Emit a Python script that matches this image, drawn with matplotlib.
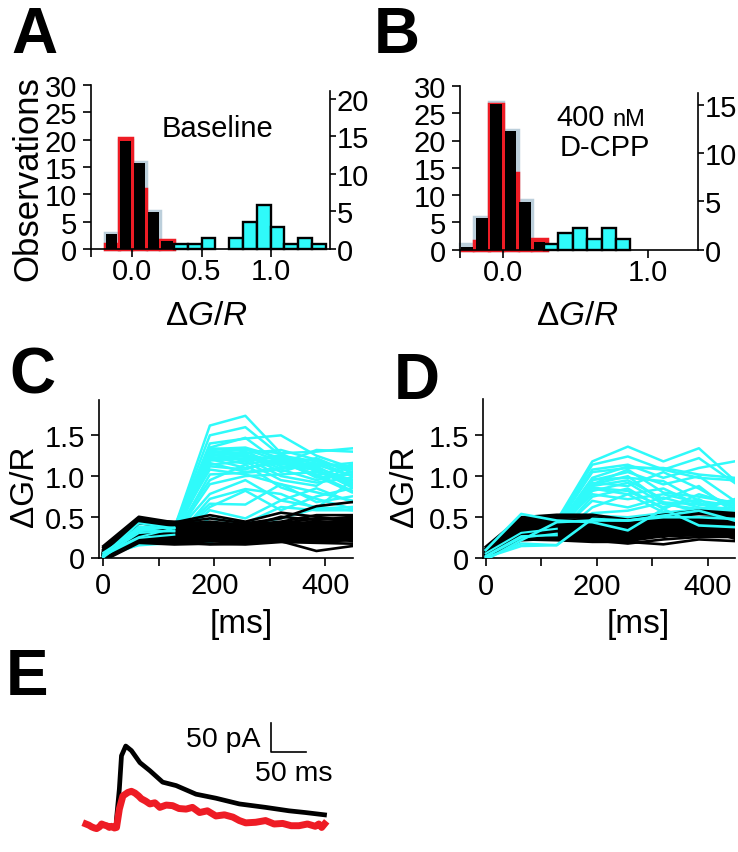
import matplotlib
matplotlib.use('Agg')
import matplotlib.pyplot as plt

plt.rcParams['font.family'] = ['Liberation Sans', 'DejaVu Sans']
plt.rcParams['mathtext.fontset'] = 'custom'
plt.rcParams['mathtext.rm'] = 'Liberation Sans'
plt.rcParams['mathtext.it'] = 'Liberation Sans:italic'

W, H = 738, 853
CYAN = '#2ffafa'
RED = '#ee1c25'
PALE = '#bccfdb'

# histogram A, left edges of 0.1 wide bins
edges_a = [-0.2, -0.1, 0.0, 0.1, 0.2]
pale_a = [3, 20, 16, 7, 1.5]
red_a = [1, 20.3, 11, 0, 1.6]
black_a = [2.7, 19.7, 15.7, 6.8, 1.4]
cyan_edges_a = [0.3, 0.4, 0.5, 0.7, 0.8, 0.9, 1.0, 1.1, 1.2, 1.3]
cyan_a = [1, 1, 2, 2, 5, 8, 4, 1, 2, 1]

# histogram B
edges_b = [-0.3, -0.2, -0.1, 0.0, 0.1, 0.2]
pale_b = [1, 6, 27, 22, 9, 1.5]
red_b = [0, 1.6, 26.7, 14, 0, 1.9]
black_b = [0.4, 5.8, 26.7, 21.7, 8.8, 1.4]
cyan_edges_b = [0.28, 0.38, 0.48, 0.58, 0.68, 0.78]
cyan_b = [1, 3, 4, 2, 4, 2]

times = [0, 64, 128, 192, 256, 320, 384, 448]

cyan_c = [
    [0.03, 0.42, 0.36, 1.62, 1.74, 1.28, 1.05, 0.95],
    [0.05, 0.38, 0.35, 1.50, 1.60, 1.25, 1.18, 1.00],
    [0.02, 0.30, 0.33, 1.40, 1.46, 1.50, 1.25, 1.10],
    [0.00, 0.36, 0.38, 1.35, 1.47, 1.15, 1.32, 1.30],
    [0.04, 0.25, 0.36, 1.34, 1.32, 1.28, 1.30, 1.34],
    [0.01, 0.35, 0.30, 1.33, 1.35, 1.22, 1.12, 1.16],
    [0.06, 0.34, 0.37, 1.31, 1.28, 1.32, 1.20, 1.05],
    [0.03, 0.28, 0.35, 1.29, 1.33, 1.18, 1.10, 0.95],
    [0.00, 0.33, 0.32, 1.27, 1.20, 1.24, 1.15, 1.12],
    [0.05, 0.36, 0.34, 1.25, 1.30, 1.12, 1.08, 0.88],
    [0.02, 0.24, 0.28, 1.24, 1.15, 1.20, 0.98, 1.02],
    [0.04, 0.31, 0.30, 1.22, 1.26, 1.05, 1.18, 1.08],
    [0.01, 0.37, 0.36, 1.21, 1.10, 1.16, 1.02, 0.82],
    [0.03, 0.29, 0.31, 1.19, 1.22, 1.00, 0.92, 0.98],
    [0.02, 0.33, 0.34, 1.30, 1.24, 1.14, 1.22, 1.04],
    [0.04, 0.30, 0.29, 1.28, 1.18, 1.26, 1.06, 0.92],
    [0.01, 0.35, 0.33, 1.26, 1.27, 1.09, 1.14, 1.00],
    [0.03, 0.27, 0.31, 1.23, 1.21, 1.17, 1.00, 1.14],
    [0.05, 0.32, 0.35, 1.20, 1.25, 1.20, 1.08, 0.86],
    [0.00, 0.22, 0.27, 1.16, 1.05, 1.10, 1.12, 0.90],
    [0.05, 0.34, 0.33, 1.14, 1.18, 0.95, 0.88, 1.15],
    [0.02, 0.26, 0.29, 1.12, 1.08, 1.22, 1.00, 0.80],
    [0.04, 0.32, 0.34, 1.08, 1.02, 0.90, 0.80, 0.70],
    [0.01, 0.20, 0.25, 1.02, 1.04, 1.08, 0.95, 1.05],
    [0.03, 0.27, 0.30, 0.95, 1.14, 0.86, 0.72, 0.60],
    [0.00, 0.23, 0.26, 0.90, 1.00, 1.02, 1.05, 0.92],
    [0.02, 0.30, 0.28, 0.78, 0.95, 0.70, 0.62, 0.58],
    [0.04, 0.18, 0.22, 0.72, 0.84, 0.78, 0.60, 0.62],
    [0.01, 0.25, 0.26, 0.66, 0.65, 0.90, 0.68, 0.75],
    [0.03, 0.21, 0.24, 0.62, 0.82, 0.58, 0.75, 0.85],
    [0.00, 0.16, 0.20, 0.58, 0.48, 0.70, 0.85, 0.68],
    [0.02, 0.19, 0.22, 0.48, 0.42, 0.62, 0.58, 0.58],
    [0.03, 0.15, 0.18, 0.18, 0.40, 0.48, 0.60, 0.95],
]

black_c = [
    [0.14, 0.50, 0.43, 0.52, 0.44, 0.55, 0.50, 0.45],
    [0.12, 0.47, 0.42, 0.48, 0.42, 0.48, 0.63, 0.68],
    [0.10, 0.49, 0.41, 0.44, 0.40, 0.44, 0.52, 0.52],
    [0.08, 0.45, 0.44, 0.42, 0.38, 0.50, 0.46, 0.50],
    [0.06, 0.43, 0.41, 0.41, 0.39, 0.42, 0.48, 0.46],
    [0.09, 0.46, 0.42, 0.40, 0.37, 0.41, 0.44, 0.44],
    [0.05, 0.44, 0.40, 0.39, 0.36, 0.39, 0.42, 0.42],
    [0.07, 0.42, 0.38, 0.38, 0.35, 0.38, 0.40, 0.40],
    [0.03, 0.29, 0.36, 0.37, 0.34, 0.37, 0.38, 0.38],
    [0.04, 0.28, 0.34, 0.36, 0.33, 0.36, 0.37, 0.37],
    [0.02, 0.27, 0.32, 0.35, 0.32, 0.35, 0.36, 0.36],
    [0.06, 0.27, 0.30, 0.34, 0.31, 0.34, 0.34, 0.35],
    [0.01, 0.26, 0.29, 0.33, 0.30, 0.33, 0.33, 0.34],
    [0.03, 0.25, 0.28, 0.32, 0.29, 0.32, 0.32, 0.33],
    [0.00, 0.25, 0.27, 0.31, 0.28, 0.31, 0.31, 0.32],
    [0.02, 0.24, 0.26, 0.30, 0.27, 0.30, 0.30, 0.31],
    [0.00, 0.24, 0.25, 0.29, 0.26, 0.29, 0.29, 0.30],
    [-0.03, 0.23, 0.24, 0.28, 0.25, 0.28, 0.28, 0.29],
    [0.04, 0.23, 0.23, 0.27, 0.24, 0.27, 0.27, 0.28],
    [0.05, 0.22, 0.22, 0.26, 0.23, 0.26, 0.26, 0.27],
    [0.03, 0.21, 0.21, 0.25, 0.22, 0.25, 0.25, 0.26],
    [0.02, 0.20, 0.20, 0.24, 0.21, 0.24, 0.24, 0.25],
    [0.06, 0.19, 0.19, 0.22, 0.20, 0.22, 0.22, 0.23],
    [0.04, 0.19, 0.17, 0.20, 0.18, 0.20, 0.20, 0.21],
    [-0.04, 0.18, 0.16, 0.17, 0.16, 0.19, 0.18, 0.17],
    [0.05, 0.20, 0.19, 0.16, 0.17, 0.20, 0.08, 0.14],
    [0.03, 0.26, 0.22, 0.41, 0.27, 0.43, 0.30, 0.20],
    [0.02, 0.22, 0.27, 0.30, 0.34, 0.25, 0.41, 0.48],
]

cyan_d = [
    [0.08, 0.40, 0.46, 1.18, 1.36, 1.18, 1.34, 0.95],
    [0.05, 0.42, 0.42, 1.14, 1.24, 1.08, 1.22, 0.92],
    [0.10, 0.45, 0.44, 1.08, 1.14, 0.98, 1.10, 1.18],
    [0.03, 0.38, 0.40, 1.05, 1.10, 1.10, 1.02, 0.98],
    [0.06, 0.35, 0.38, 0.98, 1.12, 1.08, 0.98, 0.95],
    [0.02, 0.40, 0.36, 0.95, 1.05, 0.90, 1.00, 0.70],
    [0.07, 0.30, 0.35, 0.92, 0.88, 1.05, 0.85, 0.60],
    [0.04, 0.33, 0.38, 0.90, 1.08, 0.80, 0.75, 0.68],
    [0.01, 0.28, 0.32, 0.88, 0.95, 0.72, 0.88, 0.55],
    [0.05, 0.36, 0.34, 0.85, 0.78, 0.85, 0.65, 0.68],
    [0.02, 0.25, 0.30, 0.82, 0.92, 0.66, 0.60, 0.62],
    [0.06, 0.31, 0.36, 0.78, 0.72, 0.78, 0.68, 0.50],
    [0.03, 0.27, 0.28, 0.75, 0.85, 0.60, 0.78, 0.66],
    [0.00, 0.23, 0.30, 0.70, 0.62, 0.74, 0.62, 0.58],
    [0.04, 0.29, 0.26, 0.62, 0.78, 0.56, 0.58, 0.72],
    [0.02, 0.24, 0.28, 0.55, 0.58, 0.68, 0.56, 0.52],
    [0.01, 0.18, 0.16, 0.52, 0.50, 0.55, 0.60, 0.55],
    [0.03, 0.30, 0.33, 0.96, 0.98, 0.94, 0.70, 0.64],
    [0.05, 0.34, 0.35, 0.90, 1.00, 0.68, 0.66, 0.58],
    [0.02, 0.26, 0.31, 0.86, 0.82, 0.62, 0.72, 0.50],
]

cyan_d_top = [
    [0.10, 0.54, 0.46, 0.44, 0.34, 0.60, 0.40, 0.38],
    [-0.02, 0.22, 0.44, 0.46, 0.46, 0.52, 0.58, 0.46],
    [0.01, 0.15, 0.16, 0.48, 0.46, 0.50, 0.50, 0.48],
]

black_d = [
    [0.14, 0.50, 0.53, 0.53, 0.47, 0.53, 0.58, 0.55],
    [0.12, 0.48, 0.50, 0.50, 0.45, 0.51, 0.56, 0.54],
    [0.10, 0.47, 0.52, 0.48, 0.46, 0.50, 0.54, 0.52],
    [0.09, 0.46, 0.48, 0.46, 0.43, 0.49, 0.50, 0.50],
    [0.08, 0.44, 0.46, 0.44, 0.41, 0.47, 0.48, 0.48],
    [0.07, 0.42, 0.44, 0.42, 0.39, 0.45, 0.46, 0.46],
    [0.06, 0.40, 0.42, 0.40, 0.37, 0.43, 0.44, 0.44],
    [0.05, 0.38, 0.40, 0.38, 0.35, 0.41, 0.42, 0.42],
    [0.04, 0.36, 0.38, 0.36, 0.33, 0.39, 0.40, 0.40],
    [0.05, 0.34, 0.36, 0.34, 0.31, 0.37, 0.38, 0.38],
    [0.03, 0.32, 0.34, 0.32, 0.29, 0.35, 0.36, 0.36],
    [0.04, 0.30, 0.32, 0.30, 0.27, 0.33, 0.34, 0.34],
    [0.02, 0.28, 0.30, 0.28, 0.25, 0.31, 0.32, 0.32],
    [0.03, 0.26, 0.28, 0.26, 0.23, 0.29, 0.30, 0.30],
    [0.01, 0.24, 0.26, 0.24, 0.21, 0.27, 0.28, 0.28],
    [0.02, 0.22, 0.24, 0.22, 0.18, 0.23, 0.26, 0.26],
    [0.00, 0.23, 0.22, 0.20, 0.20, 0.17, 0.23, 0.21],
    [0.01, 0.35, 0.29, 0.35, 0.38, 0.26, 0.37, 0.24],
    [0.06, 0.27, 0.43, 0.27, 0.30, 0.44, 0.29, 0.41],
    [0.02, 0.43, 0.27, 0.41, 0.24, 0.36, 0.43, 0.29],
]

# whole cell traces, ms and pA
black_ms = [43, 47, 50, 56, 64, 76, 90, 108, 127, 155, 183, 216, 253, 286, 309, 336]
black_pa = [12, 64, 122, 139, 131, 110, 96, 76, 70, 55, 48, 38, 32, 26, 23, 19]
red_ms = [0, 4, 8, 12, 15, 19, 22, 26, 29, 33, 36, 40, 43, 47, 52, 59, 64, 69, 74, 78, 84,
          90, 97, 104, 113, 122, 131, 141, 150, 160, 171, 183, 195, 207, 216, 225, 239,
          253, 265, 277, 289, 300, 312, 323, 328, 332, 336]
red_pa = [3, 1, -2, -4, -5, -2, 3, 1, 0, -3, -1, -4, -3, 29, 52, 58, 60, 57, 52, 47, 43,
          38, 40, 32, 36, 35, 30, 29, 32, 23, 26, 17, 19, 15, 9, 5, 6,
          9, 3, 4, 0, 0, 3, -1, 3, -3, 3]


def px_axes(fig, x0, x1, ytop, ybot):
    return fig.add_axes([x0 / W, 1 - ybot / H, (x1 - x0) / W, (ybot - ytop) / H])


def px_text(fig, x, y, s, **kw):
    kw.setdefault('ha', 'center')
    kw.setdefault('va', 'center')
    fig.text(x / W, 1 - y / H, s, **kw)


def histogram(fig, box, xlim, edges, pale, red, black, cyan_edges, cyan, xticks, right):
    ax = px_axes(fig, *box)
    ax.set_xlim(*xlim)
    ax.set_ylim(0, 30)
    centers = [e + 0.05 for e in edges]
    ax.bar(centers, pale, width=0.1, color=PALE, edgecolor=PALE, lw=2.5, clip_on=False)
    ax.bar(centers, red, width=0.1, color=RED, edgecolor=RED, lw=2.5, clip_on=False)
    ax.bar(centers, black, width=0.082, color='black', lw=0, zorder=3)
    ax.bar([e + 0.05 for e in cyan_edges], cyan, width=0.1, color=CYAN, edgecolor='black',
           lw=1.7, zorder=3, clip_on=False)
    for side in ['top', 'right']:
        ax.spines[side].set_visible(False)
    ax.spines['left'].set_linewidth(1.2)
    ax.spines['bottom'].set_linewidth(1.2)
    ax.set_yticks([0, 5, 10, 15, 20, 25, 30])
    ax.set_xticks(xticks)
    ax.set_xticklabels(['%.1f' % t if t >= 0 else '' for t in xticks])
    ax.tick_params(length=6, width=1.2, labelsize=21, pad=4)
    ax.tick_params(axis='x', pad=0)

    ax2 = ax.twinx()
    ax2.set_ylim(0, right['top'])
    ax2.set_yticks(right['ticks'])
    for side in ['top', 'left', 'bottom']:
        ax2.spines[side].set_visible(False)
    ax2.spines['right'].set_linewidth(1.2)
    ax2.spines['right'].set_bounds(0, right['end'])
    ax2.tick_params(length=4, width=1.2, labelsize=21, pad=1)
    return ax


def traces(fig, box, xlim, under, black, over, early):
    ax = px_axes(fig, *box)
    ax.set_xlim(*xlim)
    ax.set_ylim(0, 1.94)
    for row in under:
        ax.plot(times, row, color=CYAN, lw=1.8, zorder=2)
    for row in black:
        ax.plot(times, row, color='black', lw=1.9, zorder=3)
    # the cyan rise shows through the black bundle up to the step
    for row in early:
        ax.plot(times[:3], row[:3], color=CYAN, lw=1.5, zorder=4)
    for row in over:
        ax.plot(times, row, color=CYAN, lw=1.9, zorder=4)
    for side in ['top', 'right']:
        ax.spines[side].set_visible(False)
    ax.spines['left'].set_linewidth(1.2)
    ax.spines['bottom'].set_linewidth(1.2)
    ax.set_yticks([0, 0.5, 1.0, 1.5])
    ax.set_yticklabels(['0', '0.5', '1.0', '1.5'])
    ax.set_xticks([0, 100, 200, 300, 400])
    ax.set_xticklabels(['0', '', '200', '', '400'])
    ax.tick_params(length=6, width=1.2, labelsize=21, pad=4)
    return ax


fig = plt.figure(figsize=(W / 100, H / 100), dpi=100)

histogram(fig, (91, 330, 86, 250), (-0.3, 1.43), edges_a, pale_a, red_a, black_a,
          cyan_edges_a, cyan_a, [-0.3, 0.0, 0.5, 1.0],
          {'top': 21.8, 'end': 21, 'ticks': [0, 5, 10, 15, 20]})
histogram(fig, (460, 698.3, 87, 250.5), (-0.3, 1.35), edges_b, pale_b, red_b, black_b,
          cyan_edges_b, cyan_b, [-0.3, 0.0, 1.0],
          {'top': 17, 'end': 16.3, 'ticks': [0, 5, 10, 15]})

traces(fig, (99.3, 352.5, 400.5, 558.5), (-7.2, 449), cyan_c, black_c, [], cyan_c[:14:2])
traces(fig, (482.7, 735, 400, 559.3), (-5.4, 449), cyan_d, black_d, cyan_d_top, cyan_d[10:13])

ax = px_axes(fig, 60, 360, 700, 850)
ax.set_xlim(-36.6, 386)
ax.set_ylim(-40.6, 221)
ax.axis('off')
ax.plot(black_ms, black_pa, color='black', lw=3.4)
ax.plot(red_ms, red_pa, color=RED, lw=5)
ax.plot([260, 260, 310], [179, 129, 129], color='black', lw=1.2)

for x, y, s in [(34, 36, 'A'), (397, 36, 'B'), (32, 377, 'C'), (417, 382, 'D'), (27, 678, 'E')]:
    px_text(fig, x, y, s, fontsize=46, fontweight='bold')

px_text(fig, 28, 179, 'Observations', fontsize=25, rotation=90)
px_text(fig, 218, 129, 'Baseline', fontsize=21)
px_text(fig, 581, 118, '400', fontsize=21)
px_text(fig, 629, 120, 'nM', fontsize=17)
px_text(fig, 605, 148, 'D-CPP', fontsize=21)
px_text(fig, 206, 317, r'$\Delta\mathit{G/R}$', fontsize=24)
px_text(fig, 577, 317, r'$\Delta\mathit{G/R}$', fontsize=24)
px_text(fig, 24, 486, 'ΔG/R', fontsize=24, rotation=90)
px_text(fig, 404, 486, 'ΔG/R', fontsize=24, rotation=90)
px_text(fig, 241, 625, '[ms]', fontsize=24)
px_text(fig, 638, 625, '[ms]', fontsize=24)
px_text(fig, 223, 740, '50 pA', fontsize=20.5)
px_text(fig, 294, 774, '50 ms', fontsize=20.5)

fig.savefig('out.png', dpi=100)
